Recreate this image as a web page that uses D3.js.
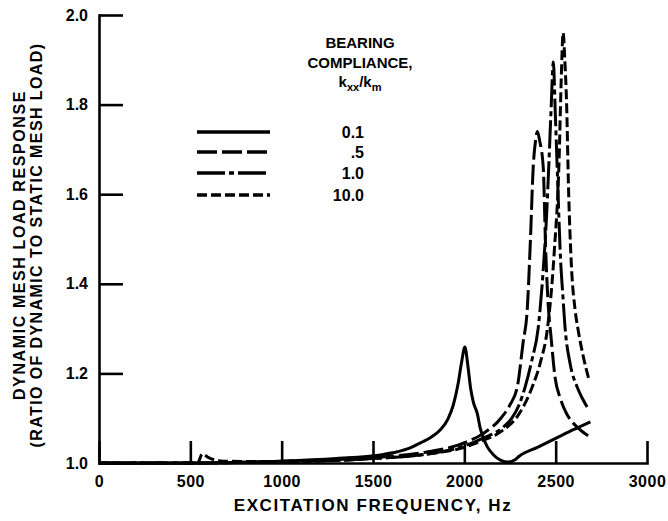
<!DOCTYPE html>
<meta charset="utf-8">
<style>
    body { margin: 0; background: #fff; }
    text { font-family: "Liberation Sans", Arial, sans-serif; font-weight: bold; fill: #000; }
    .axis path, .axis line { stroke: #000; stroke-width: 2.6; }
    .axis text { font-size: 16px; }
    .curve { fill: none; stroke: #000; stroke-width: 3; }
</style>
<svg width="668" height="521"></svg>
<script src="https://cdn.jsdelivr.net/npm/d3@7"></script>
<script>

    // values: frequency (Hz) and response ratio
    var f01 = [0, 500, 1000, 1300, 1541, 1634, 1700, 1760, 1820, 1869, 1910, 1940, 1965, 1985, 2003, 2020, 2035, 2050, 2071, 2087, 2105, 2126, 2160, 2200, 2240, 2280, 2300, 2400, 2500, 2600, 2690];
    var v01 = [1.0, 1.0, 1.004, 1.01, 1.018, 1.025, 1.033, 1.045, 1.058, 1.074, 1.098, 1.13, 1.175, 1.225, 1.259, 1.215, 1.165, 1.135, 1.11, 1.078, 1.055, 1.036, 1.018, 1.006, 1.002, 1.008, 1.015, 1.035, 1.055, 1.075, 1.092];

    var f05 = [0, 500, 1000, 1500, 1800, 2000, 2100, 2200, 2250, 2290, 2322, 2344, 2362, 2377, 2390, 2400, 2412, 2432, 2445, 2458, 2475, 2497, 2525, 2560, 2590, 2640, 2689];
    var v05 = [1.0, 1.0, 1.004, 1.012, 1.025, 1.045, 1.065, 1.10, 1.13, 1.17, 1.27, 1.34, 1.50, 1.66, 1.72, 1.74, 1.72, 1.66, 1.48, 1.36, 1.28, 1.19, 1.145, 1.11, 1.092, 1.072, 1.058];

    var f10 = [0, 500, 1000, 1500, 1800, 2000, 2100, 2213, 2260, 2300, 2333, 2370, 2404, 2430, 2450, 2464, 2476, 2487, 2498, 2510, 2525, 2540, 2552, 2580, 2617, 2645, 2672];
    var v10 = [1.0, 1.0, 1.003, 1.01, 1.02, 1.038, 1.055, 1.08, 1.10, 1.13, 1.17, 1.23, 1.30, 1.42, 1.55, 1.68, 1.80, 1.895, 1.78, 1.64, 1.47, 1.37, 1.30, 1.22, 1.17, 1.145, 1.125];

    var f100 = [0, 500, 540, 565, 600, 680, 1000, 1500, 1800, 2000, 2100, 2200, 2300, 2372, 2420, 2454, 2492, 2519, 2530, 2541, 2550, 2560, 2570, 2585, 2607, 2623, 2650, 2683];
    var v100 = [1.0, 1.0, 1.0, 1.02, 1.012, 1.004, 1.003, 1.01, 1.02, 1.035, 1.05, 1.07, 1.11, 1.17, 1.23, 1.297, 1.47, 1.68, 1.85, 1.96, 1.90, 1.80, 1.62, 1.45, 1.34, 1.297, 1.24, 1.185];

    var legendLabels = ["0.1", ".5", "1.0", "10.0"];
    var dashes = [null, "20,5", "28,4,5,4", "10,4"];
    var xTicks = [0, 500, 1000, 1500, 2000, 2500, 3000];
    var yTicks = [1.0, 1.2, 1.4, 1.6, 1.8, 2.0];

    var series = [
        {f: f01, v: v01},
        {f: f05, v: v05},
        {f: f10, v: v10},
        {f: f100, v: v100}
    ];

    var svg = d3.select("svg");

    var x = d3.scaleLinear().domain([0, 3000]).range([99, 647]),
        y = d3.scaleLinear().domain([1, 2]).range([463, 15]);

    svg.append("g")
            .attr("class", "axis axis--x")
            .attr("transform", "translate(0," + y(1) + ")")
            .call(d3.axisBottom(x).tickValues(xTicks).tickSize(-22).tickSizeOuter(0).tickPadding(13).tickFormat(d3.format("d")))
            .selectAll("text").style("letter-spacing", "0.5px");

    svg.append("g")
            .attr("class", "axis axis--y")
            .attr("transform", "translate(" + x(0) + ",0)")
            .call(d3.axisLeft(y).tickValues(yTicks).tickSize(-24).tickSizeOuter(0).tickPadding(11).tickFormat(d3.format(".1f")));

    svg.selectAll(".axis .domain").attr("stroke-linecap", "square");

    var line = d3.line()
            .x(function(d) { return x(d[0]); })
            .y(function(d) { return y(d[1]); })
            .curve(d3.curveMonotoneX);

    svg.selectAll(".curve")
            .data(series)
            .enter().append("path")
            .attr("class", "curve")
            .attr("stroke-dasharray", function(d, i) { return dashes[i]; })
            .attr("d", function(d) { return line(d.f.map(function(f, j) { return [f, d.v[j]]; })); });

    // legend
    var legend = svg.append("g");
    var ly = [132, 152, 173, 195];
    legendLabels.forEach(function(lab, i) {
        legend.append("line")
                .attr("x1", 197).attr("x2", 270)
                .attr("y1", ly[i]).attr("y2", ly[i])
                .attr("stroke", "#000").attr("stroke-width", 3.5)
                .attr("stroke-dasharray", dashes[i]);
        legend.append("text")
                .attr("x", 364).attr("y", ly[i] + 6)
                .attr("text-anchor", "end")
                .style("font-size", "16px")
                .text(lab);
    });

    legend.append("text").attr("x", 360).attr("y", 48).attr("text-anchor", "middle")
            .style("font-size", "15px").text("BEARING");
    legend.append("text").attr("x", 360).attr("y", 68).attr("text-anchor", "middle")
            .style("font-size", "15px").text("COMPLIANCE,");
    var kt = legend.append("text").attr("x", 360).attr("y", 87).attr("text-anchor", "middle")
            .style("font-size", "15px");
    kt.append("tspan").text("k");
    kt.append("tspan").attr("dy", 4).style("font-size", "11px").text("xx");
    kt.append("tspan").attr("dy", -4).text("/k");
    kt.append("tspan").attr("dy", 4).style("font-size", "11px").text("m");

    // axis titles
    svg.append("text")
            .attr("x", 373).attr("y", 511)
            .attr("text-anchor", "middle")
            .style("font-size", "17px").style("letter-spacing", "1.6px")
            .text("EXCITATION FREQUENCY, Hz");

    var yt = svg.append("g").attr("transform", "translate(0,245) rotate(-90)");
    yt.append("text").attr("x", 0).attr("y", 25).attr("text-anchor", "middle")
            .style("font-size", "16px").style("letter-spacing", "1.6px")
            .text("DYNAMIC MESH LOAD RESPONSE");
    yt.append("text").attr("x", 0).attr("y", 42).attr("text-anchor", "middle")
            .style("font-size", "16px").style("letter-spacing", "1.4px")
            .text("(RATIO OF DYNAMIC TO STATIC MESH LOAD)");

</script>
